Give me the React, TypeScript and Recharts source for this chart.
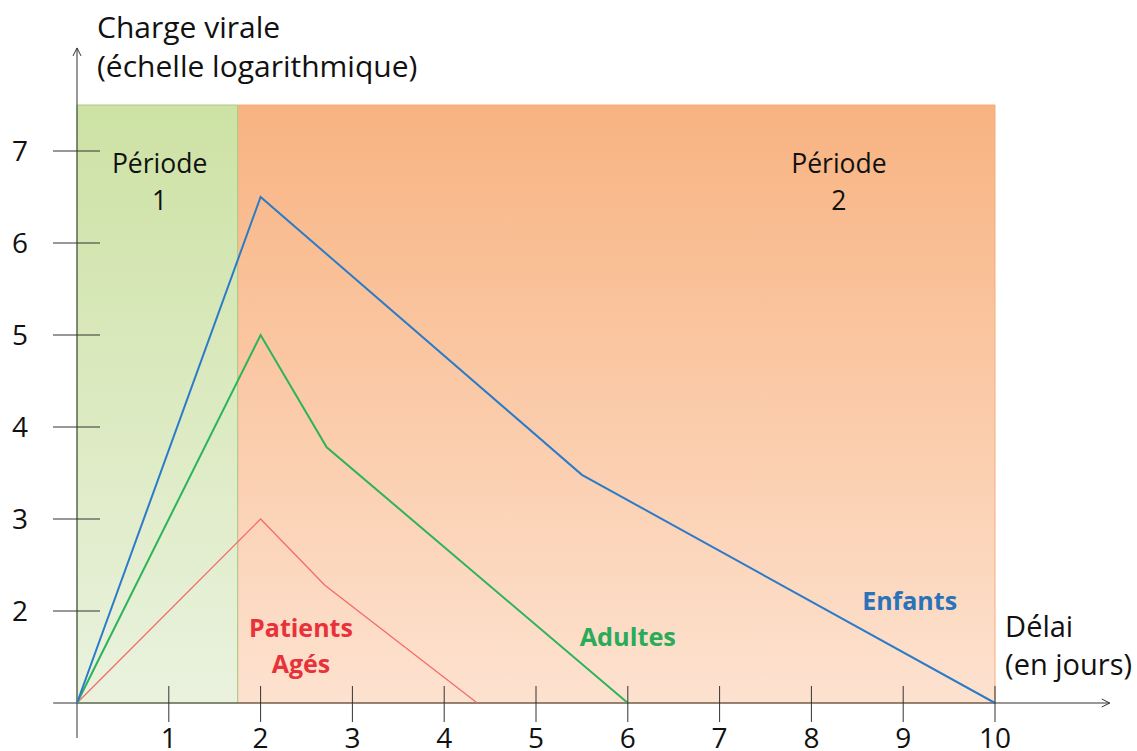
import React from 'react';
import { ComposedChart, Line, XAxis, YAxis, ReferenceArea, ReferenceLine, ReferenceDot } from 'recharts';

// ---- data ----
const xTicks = [1, 2, 3, 4, 5, 6, 7, 8, 9, 10];
const yTicks = [2, 3, 4, 5, 6, 7];

const enfants = [
  { x: 0, y: 1 },
  { x: 2, y: 6.5 },
  { x: 5.5, y: 3.48 },
  { x: 10, y: 1 },
];
const adultes = [
  { x: 0, y: 1 },
  { x: 2, y: 5 },
  { x: 2.72, y: 3.78 },
  { x: 6, y: 1 },
];
const ages = [
  { x: 0, y: 1 },
  { x: 2, y: 3 },
  { x: 2.7, y: 2.28 },
  { x: 4.36, y: 1 },
];

const periods = [
  { name: 'Période 1', x1: 0, x2: 1.75 },
  { name: 'Période 2', x1: 1.75, x2: 10 },
];

const FONT = '"Open Sans", Lato, sans-serif';

type LabelOpts = {
  lines: string[];
  size: number;
  color: string;
  weight?: number | string;
  anchor?: 'start' | 'middle' | 'end';
  gap: number;
};

const makeLabel = (o: LabelOpts) => (props: any) => {
  const vb = props.viewBox || {};
  const cx = (vb.x ?? 0) + (vb.width ?? 0) / 2;
  const cy = (vb.y ?? 0) + (vb.height ?? 0) / 2;
  return (
    <text
      x={cx}
      y={cy}
      fill={o.color}
      fontSize={o.size}
      fontWeight={o.weight ?? 400}
      fontFamily={FONT}
      textAnchor={o.anchor ?? 'middle'}
    >
      {o.lines.map((l, i) => (
        <tspan key={i} x={cx} dy={i === 0 ? 0 : o.gap}>
          {l}
        </tspan>
      ))}
    </text>
  );
};

const XTick = (props: any) => {
  const { x, y, payload } = props;
  return (
    <g>
      <line x1={x} x2={x} y1={y - 17} y2={y + 19} stroke="#333" strokeWidth={1} />
      <text x={x} y={y + 45} textAnchor="middle" fontSize={28} fontFamily={FONT} fill="#111">
        {payload.value}
      </text>
    </g>
  );
};

const YTick = (props: any) => {
  const { x, y, payload } = props;
  return (
    <g>
      <line x1={x - 24} x2={x + 23} y1={y} y2={y} stroke="#333" strokeWidth={1} />
      <text x={20} y={y + 10} textAnchor="middle" fontSize={28} fontFamily={FONT} fill="#111">
        {payload.value}
      </text>
    </g>
  );
};

const arrowLine = (dir: 'up' | 'right') => (p: any) => {
  const { x1, y1, x2, y2 } = p;
  let tip: string;
  if (dir === 'up') {
    const tx = x1;
    const ty = Math.min(y1, y2);
    tip = `M${tx - 4},${ty + 8} L${tx},${ty} L${tx + 4},${ty + 8}`;
  } else {
    const tx = Math.max(x1, x2);
    const ty = y1;
    tip = `M${tx - 8},${ty - 4} L${tx},${ty} L${tx - 8},${ty + 4}`;
  }
  return (
    <g>
      <line x1={x1} y1={y1} x2={x2} y2={y2} stroke="#333" strokeWidth={1} />
      <path d={tip} fill="none" stroke="#333" strokeWidth={1} />
    </g>
  );
};

export default function App() {
  return (
    <div style={{ position: 'absolute', left: 0, top: 0, width: 1137, height: 751, background: '#fff' }}>
      <ComposedChart
        width={1137}
        height={751}
        margin={{ top: 105, right: 142, left: 0, bottom: 0 }}
      >
        <defs>
          <linearGradient id="gGreen" x1="0" y1="0" x2="0" y2="1">
            <stop offset="0%" stopColor="#cde2a4" />
            <stop offset="100%" stopColor="#eaf2de" />
          </linearGradient>
          <linearGradient id="gOrange" x1="0" y1="0" x2="0" y2="1">
            <stop offset="0%" stopColor="#f8b381" />
            <stop offset="100%" stopColor="#fde2d0" />
          </linearGradient>
        </defs>
        <XAxis
          type="number"
          dataKey="x"
          domain={[0, 10]}
          ticks={xTicks}
          height={48}
          axisLine={false}
          tickLine={false}
          tickSize={0}
          tickMargin={0}
          tick={<XTick />}
          interval={0}
        />
        <YAxis
          type="number"
          dataKey="y"
          domain={[1, 7.5]}
          ticks={yTicks}
          width={77}
          axisLine={false}
          tickLine={false}
          tickSize={0}
          tickMargin={0}
          tick={<YTick />}
          interval={0}
        />
        <ReferenceArea
          x1={periods[1].x1}
          x2={periods[1].x2}
          y1={1}
          y2={7.5}
          fill="url(#gOrange)"
          fillOpacity={1}
          stroke="#f3ad7c"
          strokeWidth={1}
        />
        <ReferenceArea
          x1={periods[0].x1}
          x2={periods[0].x2}
          y1={1}
          y2={7.5}
          fill="url(#gGreen)"
          fillOpacity={1}
          stroke="#a9ca86"
          strokeWidth={1}
        />
        <ReferenceLine
          segment={[{ x: 0, y: 0.62 }, { x: 0, y: 8.12 }]}
          ifOverflow="visible"
          shape={arrowLine('up')}
        />
        <ReferenceLine
          segment={[{ x: -0.26, y: 1 }, { x: 11.25, y: 1 }]}
          ifOverflow="visible"
          shape={arrowLine('right')}
        />
        <Line data={ages} dataKey="y" type="linear" stroke="#f26d6a" strokeWidth={1.3} dot={false} isAnimationActive={false} />
        <Line data={adultes} dataKey="y" type="linear" stroke="#2cb35b" strokeWidth={2} dot={false} isAnimationActive={false} />
        <Line data={enfants} dataKey="y" type="linear" stroke="#2c7bc8" strokeWidth={2} dot={false} isAnimationActive={false} />

        <ReferenceDot x={0.9} y={6.76} r={1} fill="none" stroke="none" ifOverflow="visible"
          label={makeLabel({ lines: ['Période', '1'], size: 26.5, color: '#111', gap: 37 })} />
        <ReferenceDot x={8.3} y={6.76} r={1} fill="none" stroke="none" ifOverflow="visible"
          label={makeLabel({ lines: ['Période', '2'], size: 26.5, color: '#111', gap: 37 })} />
        <ReferenceDot x={2.44} y={1.717} r={1} fill="none" stroke="none" ifOverflow="visible"
          label={makeLabel({ lines: ['Patients', 'Agés'], size: 25, color: '#e8323a', weight: 700, gap: 36 })} />
        <ReferenceDot x={6.0} y={1.62} r={1} fill="none" stroke="none" ifOverflow="visible"
          label={makeLabel({ lines: ['Adultes'], size: 25.3, color: '#2aab5a', weight: 700, gap: 36 })} />
        <ReferenceDot x={9.07} y={2.01} r={1} fill="none" stroke="none" ifOverflow="visible"
          label={makeLabel({ lines: ['Enfants'], size: 25, color: '#2a72ba', weight: 700, gap: 36 })} />
        <ReferenceDot x={10.11} y={1.717} r={1} fill="none" stroke="none" ifOverflow="visible"
          label={makeLabel({ lines: ['Délai', '(en jours)'], size: 29, color: '#111', anchor: 'start', gap: 38 })} />
        <ReferenceDot x={0.218} y={8.23} r={1} fill="none" stroke="none" ifOverflow="visible"
          label={makeLabel({ lines: ['Charge virale', '(échelle logarithmique)'], size: 30, color: '#111', anchor: 'start', gap: 39 })} />
      </ComposedChart>
    </div>
  );
}
